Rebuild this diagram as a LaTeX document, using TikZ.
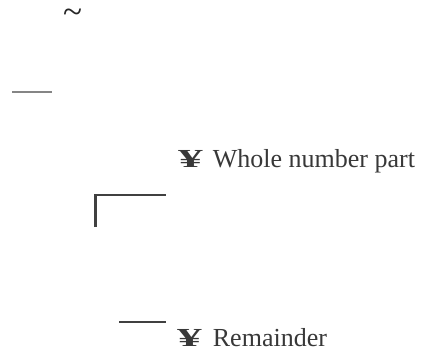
\documentclass[tikz,border=0pt]{standalone}
\usepackage{fontspec}
\setmainfont{Liberation Serif}
\begin{document}
\begin{tikzpicture}[x=1pt,y=-1pt,
  label text/.style={inner sep=0pt, anchor=base west, text=black!78,
    font=\fontsize{26}{30}\selectfont},
  dark rule/.style={draw=black!75, line width=2.9pt},
  light rule/.style={draw=black!48, line width=1.7pt}]
\useasboundingbox (0,0) rectangle (424,354);

% tilde mark at the top
\node[label text, text=black!85] (tilde) at (63,23) {\scalebox{1.35}{\textasciitilde}};

% short grey rule on the left
\coordinate (g1) at (12,92);
\coordinate (g2) at (52,92);
\draw[light rule] (g1) -- (g2);

% labels
\newcommand{\yenmark}{\scalebox{1.9}[1]{\textbf{¥}}}
\node[label text] (whole) at (178,167) {\yenmark\hspace{10pt}Whole number part};
\node[label text] (rem) at (177,346) {\yenmark\hspace{11pt}Remainder};

% corner bracket
\coordinate (c1) at (95.3,227);
\coordinate (c2) at (95.3,195);
\coordinate (c3) at (165.5,195);
\draw[dark rule] (c1) -- (c2) -- (c3);

% rule beside the remainder
\coordinate (r1) at (119,322);
\coordinate (r2) at (165.5,322);
\draw[dark rule] (r1) -- (r2);
\end{tikzpicture}
\end{document}
